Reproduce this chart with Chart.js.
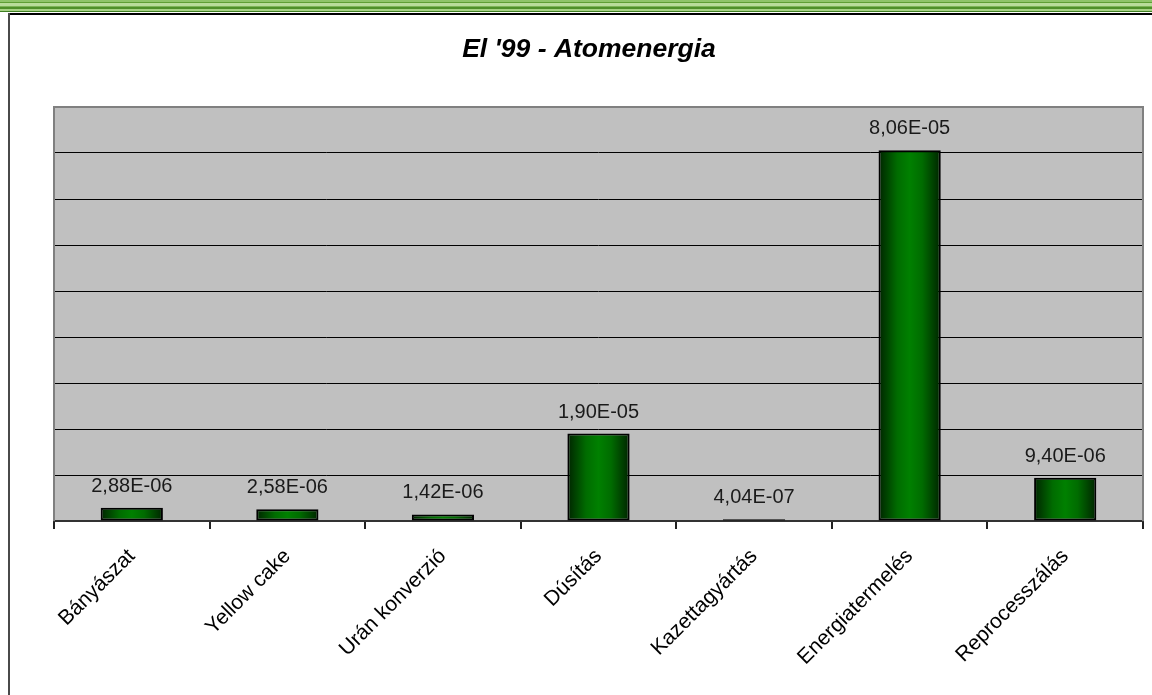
<!DOCTYPE html>
<html>
<head>
<meta charset="utf-8">
<title>El '99 - Atomenergia</title>
<script src="https://cdn.jsdelivr.net/npm/chart.js@4"></script>
<style>
  html, body { margin: 0; padding: 0; background: #ffffff; }
  #wrap { width: 1152px; height: 695px; position: relative; }
  canvas { display: block; }
</style>
</head>
<body>
<div id="wrap"><canvas id="chart" width="1152" height="695"></canvas></div>
<script>
// Chart content
const chartTitle = "El '99 - Atomenergia";
const categories = ['Bányászat', 'Yellow cake', 'Urán konverzió', 'Dúsítás', 'Kazettagyártás', 'Energiatermelés', 'Reprocesszálás'];
const values = [2.88e-6, 2.58e-6, 1.42e-6, 1.90e-5, 4.04e-7, 8.06e-5, 9.40e-6];
const axisMax = 9e-5;
const axisStep = 1e-5;

const FONT = '"Liberation Sans", Arial, sans-serif';
Chart.defaults.font.family = FONT;

// "2,88E-06" style scientific notation with a decimal comma
function sciLabel(v) {
  const [m, e] = v.toExponential(2).split('e');
  const exp = parseInt(e, 10);
  const sign = exp < 0 ? '-' : '+';
  return m.replace('.', ',') + 'E' + sign + String(Math.abs(exp)).padStart(2, '0');
}

const BAR_SHARE = 0.4;

// Horizontal dark-light-dark shading of each bar
function barFill(ctx) {
  const chart = ctx.chart;
  const xs = chart.scales && chart.scales.x;
  if (!xs || !chart.chartArea || ctx.dataIndex === undefined) return '#007000';
  const cx = xs.getPixelForValue(ctx.dataIndex);
  const w = (xs.width / categories.length) * BAR_SHARE;
  const g = chart.ctx.createLinearGradient(cx - w / 2, 0, cx + w / 2, 0);
  g.addColorStop(0, '#002400');
  g.addColorStop(0.3, '#006c00');
  g.addColorStop(0.5, '#008000');
  g.addColorStop(0.7, '#006c00');
  g.addColorStop(1, '#002400');
  return g;
}

const pagePlugin = {
  id: 'page',
  beforeDraw(chart) {
    const c = chart.ctx;
    const a = chart.chartArea;
    c.save();
    // green band along the top edge
    const stripes = [
      [0, 2, '#8fc46a'], [2, 1, '#5f9e35'], [3, 3, '#b9dc9b'], [6, 1, '#7cb456'],
      [7, 2, '#4f8f2a'], [9, 2, '#a6d184'], [11, 1, '#3f7f22']
    ];
    stripes.forEach(([y, h, col]) => { c.fillStyle = col; c.fillRect(0, y, chart.width, h); });
    // frame
    c.fillStyle = '#000000';
    c.fillRect(8, 13, chart.width - 8, 2);
    c.fillStyle = '#4a4a4a';
    c.fillRect(8, 13, 2, chart.height - 13);
    // plot background
    c.fillStyle = '#c0c0c0';
    c.fillRect(a.left, a.top, a.right - a.left, a.bottom - a.top);
    // title
    c.fillStyle = '#000000';
    c.font = 'italic bold 26.5px ' + FONT;
    c.textAlign = 'center';
    c.textBaseline = 'alphabetic';
    c.fillText(chartTitle, 589, 57);
    c.restore();
  },
  afterDraw(chart) {
    const c = chart.ctx;
    const a = chart.chartArea;
    c.save();
    c.strokeStyle = '#808080';
    c.lineWidth = 2;
    c.beginPath();
    c.moveTo(a.left, a.bottom);
    c.lineTo(a.left, a.top);
    c.lineTo(a.right, a.top);
    c.lineTo(a.right, a.bottom);
    c.stroke();
    c.restore();
  },
  afterDatasetsDraw(chart) {
    const c = chart.ctx;
    const meta = chart.getDatasetMeta(0);
    c.save();
    c.fillStyle = '#1a1a1a';
    c.font = '20px ' + FONT;
    c.textAlign = 'center';
    c.textBaseline = 'alphabetic';
    meta.data.forEach((bar, i) => {
      c.fillText(sciLabel(values[i]), bar.x, bar.y - 16);
    });
    c.restore();
  }
};

new Chart(document.getElementById('chart'), {
  type: 'bar',
  data: {
    labels: categories,
    datasets: [{
      data: values,
      backgroundColor: barFill,
      borderColor: '#000000',
      borderWidth: 2,
      borderSkipped: false,
      categoryPercentage: BAR_SHARE,
      barPercentage: 1
    }]
  },
  options: {
    responsive: false,
    animation: false,
    layout: { padding: { left: 54, right: 9, top: 107, bottom: 0 } },
    plugins: { legend: { display: false }, title: { display: false }, tooltip: { enabled: false } },
    scales: {
      x: {
        grid: { offset: true, drawOnChartArea: false, drawTicks: true, tickLength: 8, color: '#222222', lineWidth: 2 },
        border: { display: true, color: '#333333', width: 2 },
        ticks: {
          autoSkip: false, maxRotation: 45, minRotation: 45, padding: 15,
          color: '#000000', font: { size: 21, family: FONT }
        },
        afterFit(s) { s.height = 174; }
      },
      y: {
        min: 0, max: axisMax,
        grid: { color: '#000000', lineWidth: 1, drawTicks: false },
        border: { display: false },
        ticks: { display: false, stepSize: axisStep },
        afterFit(s) { s.width = 0; }
      }
    }
  },
  plugins: [pagePlugin]
});
</script>
</body>
</html>
